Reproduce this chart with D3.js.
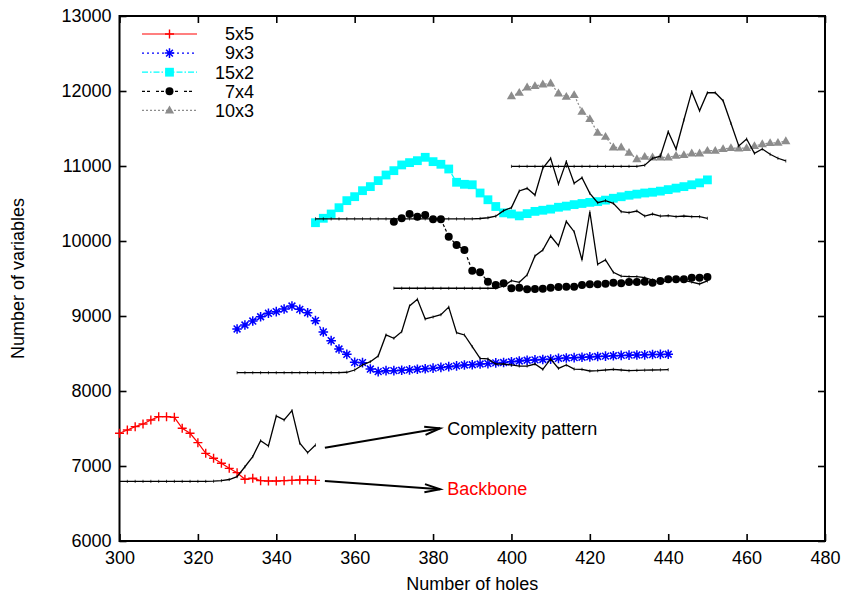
<!DOCTYPE html>
<html>
<head>
<meta charset="utf-8">
<script src="https://cdn.jsdelivr.net/npm/d3@7"></script>
<style>
  html, body { margin: 0; padding: 0; background: #fff; }
  svg { display: block; }
  text { font-family: "Liberation Sans", Arial, Helvetica, sans-serif; }
</style>
</head>
<body>
<svg id="chart" width="850" height="602"></svg>
<script>
// ---------------- DATA ----------------
const xTicks = [300, 320, 340, 360, 380, 400, 420, 440, 460, 480];
const yTicks = [6000, 7000, 8000, 9000, 10000, 11000, 12000, 13000];
const seriesNames = ["5x5", "9x3", "15x2", "7x4", "10x3"];

// hole counts (step 2)
const holes5x5 = d3.range(300, 351, 2);
const holes9x3 = d3.range(330, 441, 2);
const holes15x2 = d3.range(350, 451, 2);
const holes7x4 = d3.range(370, 451, 2);
const holes10x3 = d3.range(400, 471, 2);

// backbone curves (coloured, with markers)
const backbone5x5 = [7436,7480,7525,7560,7614,7658,7658,7649,7503,7436,7311,7169,7103,7036,6969,6911,6823,6836,6805,6800,6800,6805,6809,6814,6814,6809];
const backbone9x3 = [8827,8880,8933,8990,9036,9058,9093,9133,9089,9044,8938,8787,8671,8560,8489,8382,8378,8293,8258,8271,8271,8276,8282,8290,8296,8305,8315,8325,8335,8347,8350,8360,8365,8375,8380,8390,8400,8410,8415,8420,8425,8435,8440,8445,8450,8455,8460,8465,8470,8475,8478,8480,8482,8486,8488,8490];
const backbone15x2 = [10244,10303,10360,10444,10538,10591,10671,10725,10805,10880,10938,11014,11045,11071,11116,11058,11023,10960,10783,10756,10750,10640,10550,10460,10375,10360,10335,10365,10395,10410,10425,10450,10465,10485,10500,10515,10525,10545,10570,10590,10610,10625,10640,10650,10665,10685,10705,10725,10750,10775,10815];
const backbone7x4 = [10258,10303,10360,10325,10347,10289,10289,10058,9947,9880,9605,9583,9458,9414,9436,9369,9376,9356,9360,9364,9378,9387,9391,9391,9413,9422,9422,9431,9444,9436,9453,9453,9458,9444,9467,9489,9489,9489,9511,9511,9520];
const backbone10x3 = [11933,11977,12049,12067,12089,12103,11969,11924,11947,11724,11627,11444,11391,11249,11249,11177,11093,11124,11116,11116,11116,11137,11147,11169,11169,11204,11204,11227,11240,11236,11240,11267,11293,11307,11311,11333];

// complexity patterns (black thin lines)
const complexity5x5 = [6795,6795,6795,6795,6795,6795,6795,6795,6795,6795,6795,6795,6797,6805,6820,6858,6990,7125,7338,7267,7667,7614,7738,7303,7178,7280];
const complexity9x3 = [8244,8244,8244,8244,8244,8244,8244,8244,8244,8244,8244,8244,8244,8244,8250,8280,8347,8391,8467,8747,8703,8791,9134,9223,8960,8987,9018,9118,8778,8747,8591,8436,8427,8360,8360,8347,8333,8333,8360,8289,8427,8302,8347,8293,8289,8267,8271,8280,8289,8280,8271,8275,8278,8280,8282,8285];
const complexity15x2 = [10295,10295,10295,10295,10295,10295,10295,10295,10295,10295,10295,10295,10295,10295,10295,10295,10295,10295,10295,10295,10295,10300,10310,10330,10405,10445,10667,10702,10613,10969,11102,10760,11058,10769,10844,10636,10511,10538,10502,10391,10378,10400,10333,10360,10333,10338,10324,10333,10324,10324,10302];
const complexity7x4 = [9370,9370,9370,9370,9370,9370,9370,9370,9370,9370,9370,9370,9370,9370,9400,9471,9449,9547,9800,9880,10067,9938,10260,10124,9747,10390,9689,9747,9582,9533,9524,9524,9511,9480,9444,9480,9489,9476,9453,9427,9467];
const complexity10x3 = [10995,10995,10995,10995,10995,10995,10995,10995,10995,10995,10995,10995,10995,10995,10995,10995,10995,11010,11103,11130,11457,11227,11613,11991,11737,11977,11977,11871,11569,11267,11360,11169,11227,11156,11103,11067];

const annotationLabels = ["Complexity pattern", "Backbone"];

// ---------------- LAYOUT ----------------
const W = 850, H = 602;
const plot = { left: 119.5, right: 825, top: 16, bottom: 541 };

const x = d3.scaleLinear().domain([300, 480]).range([plot.left, plot.right]);
const y = d3.scaleLinear().domain([6000, 13000]).range([plot.bottom, plot.top]);

const svg = d3.select("#chart");
svg.append("rect").attr("width", W).attr("height", H).attr("fill", "#fff");

const FS = 18;

// axes (ticks inward, mirrored)
const tickLen = 7;
const gx = svg.append("g").attr("transform", `translate(0,${plot.bottom})`)
  .call(d3.axisBottom(x).tickValues(xTicks).tickSize(-tickLen).tickPadding(10).tickFormat(d3.format("d")));
const gxTop = svg.append("g").attr("transform", `translate(0,${plot.top})`)
  .call(d3.axisTop(x).tickValues(xTicks).tickSize(-tickLen).tickFormat(""));
const gy = svg.append("g").attr("transform", `translate(${plot.left},0)`)
  .call(d3.axisLeft(y).tickValues(yTicks).tickSize(-tickLen).tickPadding(8).tickFormat(d3.format("d")));
const gyR = svg.append("g").attr("transform", `translate(${plot.right},0)`)
  .call(d3.axisRight(y).tickValues(yTicks).tickSize(-tickLen).tickFormat(""));

[gx, gxTop, gy, gyR].forEach(g => {
  g.select(".domain").remove();
  g.selectAll(".tick line").attr("stroke", "#000").attr("stroke-width", 1.6);
  g.selectAll(".tick text").attr("font-size", FS).attr("fill", "#000")
    .attr("font-family", '"Liberation Sans", Arial, sans-serif');
});
gx.selectAll(".tick text").attr("dy", "0.71em");

// border
svg.append("rect")
  .attr("x", plot.left).attr("y", plot.top)
  .attr("width", plot.right - plot.left).attr("height", plot.bottom - plot.top)
  .attr("fill", "none").attr("stroke", "#000").attr("stroke-width", 2);

// axis titles
svg.append("text").attr("x", (plot.left + plot.right) / 2).attr("y", 590)
  .attr("text-anchor", "middle").attr("font-size", FS).text("Number of holes");
svg.append("text").attr("transform", `translate(24,${(plot.top + plot.bottom) / 2}) rotate(-90)`)
  .attr("text-anchor", "middle").attr("font-size", FS).text("Number of variables");

// ---------------- SERIES ----------------
const marker = {
  plus: (g, c) => g.append("path").attr("d", "M-4.5,0H4.5M0,-4.5V4.5").attr("stroke", c).attr("stroke-width", 1.4).attr("fill", "none"),
  star: (g, c) => g.append("path").attr("d", "M-4.8,0H4.8M0,-4.8V4.8M-3.4,-3.4L3.4,3.4M-3.4,3.4L3.4,-3.4").attr("stroke", c).attr("stroke-width", 1.5).attr("fill", "none"),
  square: (g, c) => g.append("rect").attr("x", -4.4).attr("y", -4.4).attr("width", 8.8).attr("height", 8.8).attr("fill", c),
  circle: (g, c) => g.append("circle").attr("r", 4).attr("fill", c),
  triangle: (g, c) => g.append("path").attr("d", "M0,-4.8L4.6,3.1L-4.6,3.1Z").attr("fill", c)
};

const series = [
  { name: seriesNames[0], xs: holes5x5, bb: backbone5x5, cp: complexity5x5, color: "#ff0000", dash: null, mk: "plus" },
  { name: seriesNames[1], xs: holes9x3, bb: backbone9x3, cp: complexity9x3, color: "#0000ff", dash: "2,3", mk: "star" },
  { name: seriesNames[2], xs: holes15x2, bb: backbone15x2, cp: complexity15x2, color: "#00ffff", dash: "6,2,1.5,2", mk: "square" },
  { name: seriesNames[3], xs: holes7x4, bb: backbone7x4, cp: complexity7x4, color: "#000000", dash: "3,2,3,6", mk: "circle" },
  { name: seriesNames[4], xs: holes10x3, bb: backbone10x3, cp: complexity10x3, color: "#8c8c8c", dash: "2,2", mk: "triangle" }
];

const line = d3.line().x(d => x(d[0])).y(d => y(d[1]));

series.forEach(s => {
  const bbPts = s.xs.map((h, i) => [h, s.bb[i]]);
  const cpPts = s.xs.map((h, i) => [h, s.cp[i]]);
  const g = svg.append("g");
  g.append("path").datum(bbPts).attr("d", line)
    .attr("fill", "none").attr("stroke", s.color).attr("stroke-width", 1.2)
    .attr("stroke-dasharray", s.dash);
  bbPts.forEach(p => {
    const m = g.append("g").attr("transform", `translate(${x(p[0])},${y(p[1])})`);
    marker[s.mk](m, s.color);
  });
  g.append("path").datum(cpPts).attr("d", line)
    .attr("fill", "none").attr("stroke", "#000").attr("stroke-width", 1.3);
  g.selectAll(".cpt").data(cpPts).enter().append("line")
    .attr("x1", d => x(d[0])).attr("x2", d => x(d[0]))
    .attr("y1", d => y(d[1]) - 1.6).attr("y2", d => y(d[1]) + 1.6)
    .attr("stroke", "#000").attr("stroke-width", 0.7);
});

// ---------------- LEGEND ----------------
const legX1 = 142, legX2 = 197, legTextX = 254, legY0 = 34, legDy = 19.1;
series.forEach((s, i) => {
  const yy = legY0 + i * legDy;
  svg.append("line").attr("x1", legX1).attr("x2", legX2).attr("y1", yy).attr("y2", yy)
    .attr("stroke", s.color).attr("stroke-width", 1.2).attr("stroke-dasharray", s.dash);
  const m = svg.append("g").attr("transform", `translate(${(legX1 + legX2) / 2},${yy})`);
  marker[s.mk](m, s.color);
  svg.append("text").attr("x", legTextX).attr("y", yy).attr("dy", "0.35em")
    .attr("text-anchor", "end").attr("font-size", FS).text(s.name);
});

// ---------------- ANNOTATIONS ----------------
const arrows = [
  { x1: 352.4, y1: 7244, x2: 381.8, y2: 7503, label: annotationLabels[0], lx: 383.6, ly: 7495, color: "#000" },
  { x1: 352.4, y1: 6800, x2: 381.8, y2: 6689, label: annotationLabels[1], lx: 383.6, ly: 6693, color: "#ff0000" }
];
arrows.forEach(a => {
  const X1 = x(a.x1), Y1 = y(a.y1), X2 = x(a.x2), Y2 = y(a.y2);
  svg.append("line").attr("x1", X1).attr("y1", Y1).attr("x2", X2).attr("y2", Y2)
    .attr("stroke", "#000").attr("stroke-width", 2);
  const ang = Math.atan2(Y2 - Y1, X2 - X1);
  const L = 16, spread = 0.26;
  const p1 = [X2 - L * Math.cos(ang - spread), Y2 - L * Math.sin(ang - spread)];
  const p2 = [X2 - L * Math.cos(ang + spread), Y2 - L * Math.sin(ang + spread)];
  svg.append("path").attr("d", `M${p1[0]},${p1[1]}L${X2},${Y2}L${p2[0]},${p2[1]}`)
    .attr("fill", "none").attr("stroke", "#000").attr("stroke-width", 2).attr("stroke-linejoin", "miter");
  svg.append("text").attr("x", x(a.lx)).attr("y", y(a.ly)).attr("dy", "0.35em")
    .attr("font-size", FS).attr("fill", a.color).text(a.label);
});
</script>
</body>
</html>
